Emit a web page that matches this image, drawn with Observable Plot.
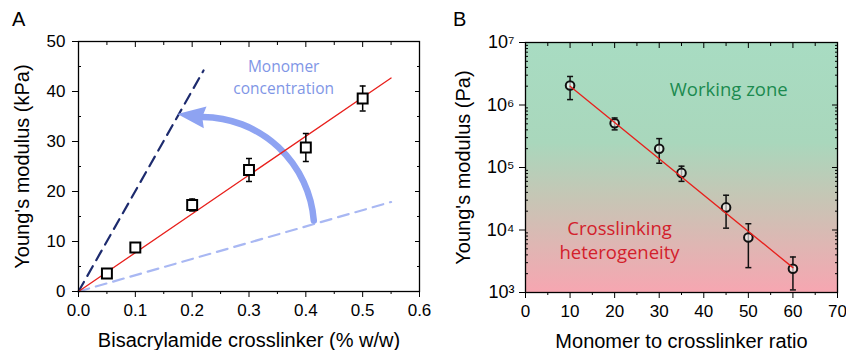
<!DOCTYPE html>
<html><head><meta charset="utf-8">
<script src="https://cdn.jsdelivr.net/npm/d3@7"></script>
<script src="https://cdn.jsdelivr.net/npm/@observablehq/plot@0.6"></script>
<style>
body{margin:0;background:#fff;width:846px;height:350px;overflow:hidden;position:relative;font-family:"Liberation Sans",Arial,sans-serif}
#a{position:absolute;left:0;top:0}
#b{position:absolute;left:420px;top:0}
.letter{position:absolute;font-size:20px;top:9px;color:#000;line-height:20px}
</style></head><body>
<div id="b"></div><div id="a"></div>
<div class="letter" style="left:12px">A</div>
<div class="letter" style="left:453px">B</div>
<script>
// ---------- Panel A data ----------
const crosslinkerA = [0.05, 0.1, 0.2, 0.3, 0.4, 0.5];
const modulusA = [3.6, 8.8, 17.3, 24.3, 28.8, 38.6];
const errorA = [0.9, 0.9, 1.2, 2.3, 2.8, 2.5];
const fitAx = [0, 0.55];
const fitAy = [0, 42.7];
const highMonomerX = [0, 0.22];
const highMonomerY = [0, 44.2];
const lowMonomerX = [0, 0.55];
const lowMonomerY = [0, 17.9];
const arrowFromA = [0.414, 14.2];   // tail of the curved arrow
const arrowNeckA = [0.222, 34.9];   // where the shaft meets the head
const arrowTipA = [0.174, 35.5];    // tip of the arrow head
const arrowHeadRotate = 7;
const xTicksA = [0, 0.1, 0.2, 0.3, 0.4, 0.5, 0.6];
const xTickLabelsA = ["0.0", "0.1", "0.2", "0.3", "0.4", "0.5", "0.6"];
const xMinorA = [0.05, 0.15, 0.25, 0.35, 0.45, 0.55];
const yTicksA = [0, 10, 20, 30, 40, 50];
const yTickLabelsA = ["0", "10", "20", "30", "40", "50"];
const yMinorA = [5, 15, 25, 35, 45];
const annotationA = "Monomer\nconcentration";
const annotationAPos = [0.361, 43.1];

// ---------- Panel B data ----------
const ratioB = [10, 20, 30, 35, 45, 50, 60];
const modulusB = [2.05e6, 5.1e5, 2.0e5, 8.2e4, 2.3e4, 7.6e3, 2.4e3];
const upperB = [2.86e6, 6.2e5, 2.9e5, 1.05e5, 3.6e4, 1.26e4, 3.7e3];
const lowerB = [1.22e6, 4.0e5, 1.17e5, 6.0e4, 1.07e4, 2.5e3, 1.1e3];
const fitBx = [10, 60];
const fitBy = [2.0e6, 2.5e3];
const xTicksB = [0, 10, 20, 30, 40, 50, 60, 70];
const xMinorB = [5, 15, 25, 35, 45, 55, 65];
const yTicksB = [1e3, 1e4, 1e5, 1e6, 1e7];
const yTickLabelsB = ["10³", "10⁴", "10⁵", "10⁶", "10⁷"];
const zoneLabels = ["Working zone", "Crosslinking\nheterogeneity"];
const zoneX = [45.6, 21.1];
const zoneY = [1.84e6, 7.1e3];
const zoneColors = ["#1b8a4f", "#d3202b"];

const axisFont = "Liberation Sans, Arial, sans-serif";
const annFont = "Open Sans, Noto Sans, sans-serif";
const empty = () => "";

// ---------- Panel A ----------
const ptsA = crosslinkerA.map((x, i) => ({x, y: modulusA[i], lo: modulusA[i] - errorA[i], hi: modulusA[i] + errorA[i]}));
const capSymbol = {draw(ctx, size) { const w = Math.sqrt(size / Math.PI); ctx.moveTo(-w, 0); ctx.lineTo(w, 0); }};
const headSymbol = {draw(ctx) { ctx.moveTo(0, 0); ctx.lineTo(28, -11); ctx.lineTo(25, 0); ctx.lineTo(28, 11); ctx.closePath(); }};
const lineData = (xs, ys) => xs.map((x, i) => ({x, y: ys[i]}));

const plotA = Plot.plot({
  width: 440, height: 350,
  marginLeft: 78, marginRight: 21, marginTop: 41, marginBottom: 59,
  style: {background: "transparent", fontFamily: axisFont, color: "#000"},
  x: {domain: [0, 0.6]},
  y: {domain: [0, 50]},
  marks: [
    Plot.line(lineData(lowMonomerX, lowMonomerY), {x: "x", y: "y", stroke: "#a9b8f3", strokeWidth: 2.2, strokeDasharray: "11,7"}),
    Plot.line(lineData(highMonomerX, highMonomerY), {x: "x", y: "y", stroke: "#1d2b6e", strokeWidth: 2.2, strokeDasharray: "11,7"}),
    Plot.arrow([{x1: arrowFromA[0], y1: arrowFromA[1], x2: arrowNeckA[0], y2: arrowNeckA[1]}], {x1: "x1", y1: "y1", x2: "x2", y2: "y2", bend: -42, stroke: "#8ea3f2", strokeWidth: 6.5, headLength: 0, insetStart: 0, insetEnd: -2}),
    Plot.dot([{x: arrowTipA[0], y: arrowTipA[1]}], {x: "x", y: "y", symbol: headSymbol, fill: "#8ea3f2", stroke: "none", rotate: arrowHeadRotate}),
    Plot.line(lineData(fitAx, fitAy), {x: "x", y: "y", stroke: "#e8201c", strokeWidth: 1.3}),
    Plot.ruleX(ptsA, {x: "x", y1: "lo", y2: "hi", stroke: "#000", strokeWidth: 1.5}),
    Plot.dot(ptsA, {x: "x", y: "hi", symbol: capSymbol, r: 3, stroke: "#000", strokeWidth: 1.5, fill: "none"}),
    Plot.dot(ptsA, {x: "x", y: "lo", symbol: capSymbol, r: 3, stroke: "#000", strokeWidth: 1.5, fill: "none"}),
    Plot.dot(ptsA, {x: "x", y: "y", symbol: "square", r: 5.6, stroke: "#000", strokeWidth: 2, fill: "#fff"}),
    Plot.text([annotationA], {x: () => annotationAPos[0], y: () => annotationAPos[1], fill: "#7f96e6", fontSize: 15.5, fontFamily: annFont, lineHeight: 1.38}),
    Plot.frame({stroke: "#000", strokeWidth: 1.3}),
    Plot.axisX({ticks: xTicksA, tickSize: 6, tickPadding: 6, tickFormat: (d, i) => xTickLabelsA[i], fontSize: 17, label: null}),
    Plot.axisX({ticks: xMinorA, tickSize: 3, tickFormat: empty, label: null}),
    Plot.axisX({anchor: "top", ticks: xTicksA, tickSize: -5, tickFormat: empty, label: null}),
    Plot.axisX({anchor: "top", ticks: xMinorA, tickSize: -3, tickFormat: empty, label: null}),
    Plot.axisY({ticks: yTicksA, tickSize: 6, tickPadding: 7, tickFormat: (d, i) => yTickLabelsA[i], fontSize: 17, label: null}),
    Plot.axisY({ticks: yMinorA, tickSize: -3, tickFormat: empty, label: null}),
    Plot.axisY({anchor: "right", ticks: yTicksA, tickSize: -5, tickFormat: empty, label: null}),
    Plot.axisY({anchor: "right", ticks: yMinorA, tickSize: -3, tickFormat: empty, label: null}),
    Plot.text(["Young's modulus (kPa)"], {frameAnchor: "left", dx: -56, rotate: -90, textAnchor: "middle", fontSize: 20}),
    Plot.text(["Bisacrylamide crosslinker (% w/w)"], {frameAnchor: "bottom", dy: 55, textAnchor: "middle", fontSize: 20})
  ]
});
document.getElementById("a").append(plotA);

// ---------- Panel B ----------
const ptsB = ratioB.map((x, i) => ({x, y: modulusB[i], lo: lowerB[i], hi: upperB[i]}));
const zones = zoneLabels.map((t, i) => ({t, x: zoneX[i], y: zoneY[i], c: zoneColors[i]}));
const yMinorB = [];
for (let e = 3; e < 7; e++) for (let k = 2; k <= 9; k++) yMinorB.push(k * Math.pow(10, e));
const logLabel = d => yTickLabelsB[yTicksB.findIndex(t => Math.abs(t - d) / t < 1e-6)] ?? "";

const gradientDefs = () => {
  const ns = "http://www.w3.org/2000/svg";
  const defs = document.createElementNS(ns, "defs");
  defs.innerHTML = `<linearGradient id="bgB" x1="0" y1="0" x2="0" y2="1">
    <stop offset="0" stop-color="#a8dcc2"/>
    <stop offset="0.4" stop-color="#a9d7bc"/>
    <stop offset="0.62" stop-color="#c6c6b5"/>
    <stop offset="1" stop-color="#f7a6b1"/>
  </linearGradient>`;
  return defs;
};

const plotB = Plot.plot({
  width: 426, height: 350,
  marginLeft: 105, marginRight: 9, marginTop: 42, marginBottom: 58,
  style: {background: "transparent", fontFamily: axisFont, color: "#000"},
  x: {domain: [0, 70]},
  y: {type: "log", domain: [1e3, 1e7]},
  marks: [
    gradientDefs,
    Plot.frame({fill: "url(#bgB)"}),
    Plot.text(zones, {x: "x", y: "y", text: "t", fill: "c", fontSize: 18.5, fontFamily: annFont, lineHeight: 1.33}),
    Plot.ruleX(ptsB, {x: "x", y1: "lo", y2: "hi", stroke: "#111", strokeWidth: 1.5}),
    Plot.dot(ptsB, {x: "x", y: "hi", symbol: capSymbol, r: 3, stroke: "#111", strokeWidth: 1.5, fill: "none"}),
    Plot.dot(ptsB, {x: "x", y: "lo", symbol: capSymbol, r: 3, stroke: "#111", strokeWidth: 1.5, fill: "none"}),
    Plot.dot(ptsB, {x: "x", y: "y", r: 4.3, stroke: "#111", strokeWidth: 2, fill: "#fff", fillOpacity: 0.6}),
    Plot.line(lineData(fitBx, fitBy), {x: "x", y: "y", stroke: "#e8201c", strokeWidth: 1.3}),
    Plot.frame({stroke: "#000", strokeWidth: 1.3}),
    Plot.axisX({ticks: xTicksB, tickSize: 6, tickPadding: 6, tickFormat: d => String(d), fontSize: 17, label: null}),
    Plot.axisX({ticks: xMinorB, tickSize: 3, tickFormat: empty, label: null}),
    Plot.axisX({anchor: "top", ticks: xTicksB, tickSize: -5, tickFormat: empty, label: null}),
    Plot.axisX({anchor: "top", ticks: xMinorB, tickSize: -3, tickFormat: empty, label: null}),
    Plot.axisY({ticks: yTicksB, tickSize: 6, tickPadding: 5, tickFormat: logLabel, fontSize: 18, label: null}),
    Plot.axisY({ticks: yMinorB, tickSize: -3, tickFormat: empty, label: null}),
    Plot.axisY({anchor: "right", ticks: yTicksB, tickSize: -6, tickFormat: empty, label: null}),
    Plot.axisY({anchor: "right", ticks: yMinorB, tickSize: -3, tickFormat: empty, label: null}),
    Plot.text(["Young's modulus (Pa)"], {frameAnchor: "left", dx: -62, rotate: -90, textAnchor: "middle", fontSize: 20}),
    Plot.text(["Monomer to crosslinker ratio"], {frameAnchor: "bottom", dy: 55, textAnchor: "middle", fontSize: 20})
  ]
});
document.getElementById("b").append(plotB);
</script>
</body></html>
